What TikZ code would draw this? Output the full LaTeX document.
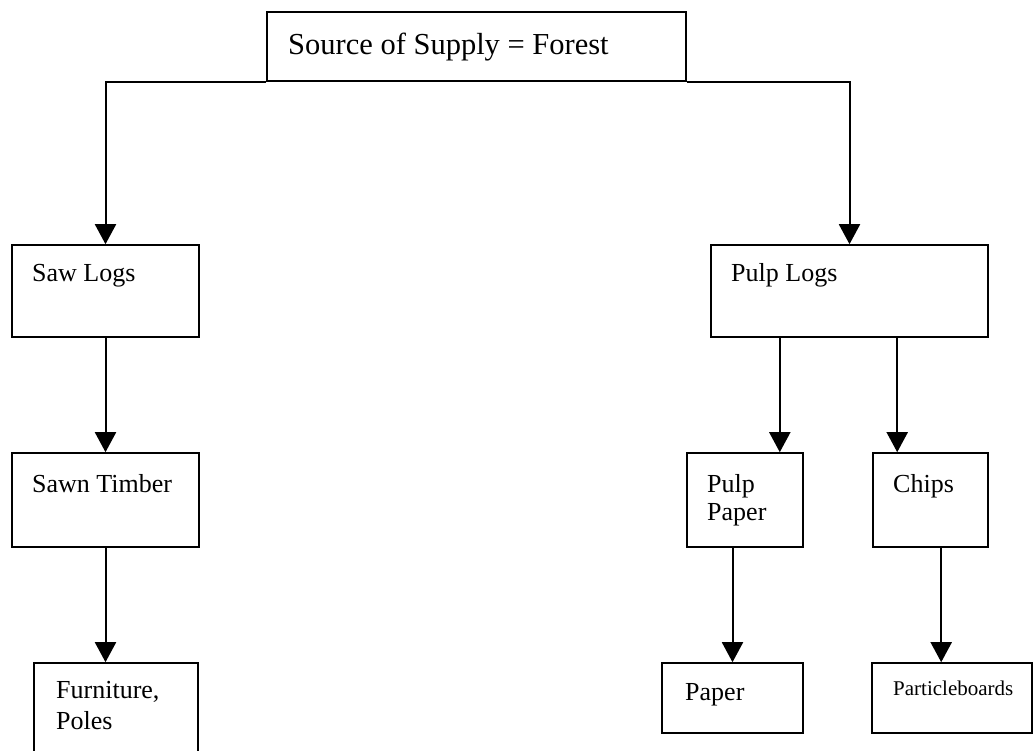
\documentclass[tikz,border=0pt]{standalone}
\usepackage{fontspec}
\setmainfont{Liberation Serif}
\usetikzlibrary{arrows.meta}

\begin{document}
\begin{tikzpicture}[x=1pt,y=-1pt,
  box/.style={draw,line width=1.6pt,inner sep=0pt},
  lbl/.style={anchor=base west,inner sep=0pt,align=left,font=\fontsize{26}{30}\selectfont},
  arr/.style={line width=2pt,-{Triangle[length=20pt,width=21pt]}}]
  \clip (0,0) rectangle (1033,751);

  % boxes
  \node[box,minimum width=419pt,minimum height=69pt] (src) at (476.5,46.5) {};
  \node[box,minimum width=187pt,minimum height=92pt] (saw) at (105.5,291) {};
  \node[box,minimum width=277pt,minimum height=92pt] (pulp) at (849.5,291) {};
  \node[box,minimum width=187pt,minimum height=94pt] (sawn) at (105.5,500) {};
  \node[box,minimum width=116pt,minimum height=94pt] (pp) at (745,500) {};
  \node[box,minimum width=115pt,minimum height=94pt] (chips) at (930.5,500) {};
  \node[box,minimum width=164pt,minimum height=107pt] (furn) at (116,716.5) {};
  \node[box,minimum width=141pt,minimum height=70pt] (paper) at (732.5,698) {};
  \node[box,minimum width=160pt,minimum height=70pt] (part) at (952,698) {};

  % texts (base = last line)
  \node[lbl,font=\fontsize{30.5}{36}\selectfont] (srctxt) at (288,55) {Source of Supply = Forest};
  \node[lbl] (sawtxt) at (32,282) {Saw Logs};
  \node[lbl] (pulptxt) at (731,282) {Pulp Logs};
  \node[lbl] (sawntxt) at (32,492) {Sawn Timber};
  \node[lbl,font=\fontsize{26}{28}\selectfont] (pptxt) at (707,520) {Pulp\\Paper};
  \node[lbl] (chipstxt) at (893,492) {Chips};
  \node[lbl,font=\fontsize{26}{31}\selectfont] (furntxt) at (56,729) {Furniture,\\Poles};
  \node[lbl] (papertxt) at (685,700) {Paper};
  \node[lbl,font=\fontsize{21}{25}\selectfont] (parttxt) at (893,695) {Particleboards};

  % arrows
  \draw[arr] (src.south west) -| (saw.north);
  \draw[arr] (src.south east) -| (pulp.north);
  \draw[arr] (saw.south) -- (sawn.north);
  \draw[arr] (sawn.south) -- (sawn.south |- furn.north);
  \draw[arr] ([xshift=-24pt]pp.north east |- pulp.south) -- ([xshift=-24pt]pp.north east);
  \draw[arr] ([xshift=25pt]chips.north west |- pulp.south) -- ([xshift=25pt]chips.north west);
  \draw[arr] (pp.south -| paper.north) -- (paper.north);
  \draw[arr] ([xshift=70pt]part.north west |- chips.south) -- ([xshift=70pt]part.north west);
\end{tikzpicture}
\end{document}
